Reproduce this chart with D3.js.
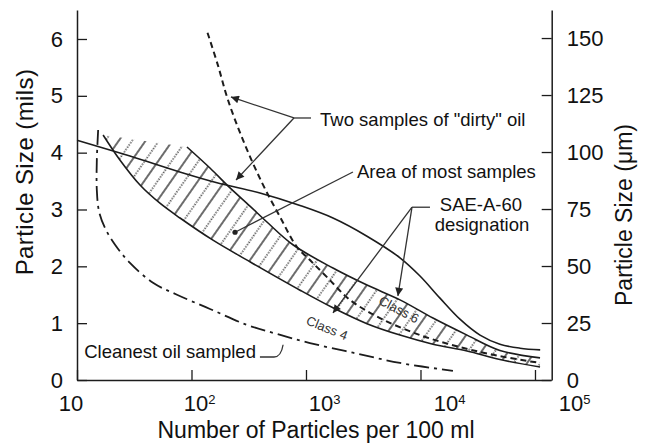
<!DOCTYPE html>
<html><head><meta charset="utf-8">
<script src="https://cdn.jsdelivr.net/npm/d3@7"></script>
<style>
body{margin:0;background:#fff;}
svg{display:block;font-family:"Liberation Sans",Arial,Helvetica,sans-serif;}
</style></head><body>
<svg id="chart" width="648" height="444"></svg>
<script>
// ---- data (count per 100 ml, particle size in mils) ----
const xTickValues = [10, 100, 1000, 10000, 100000];
const xTickBase = "10";
const xTickExps = ["", "2", "3", "4", "5"];
const yMilTicks = [0, 1, 2, 3, 4, 5, 6];
const yUmTicks = [0, 25, 50, 75, 100, 125, 150];

const dirtySolid = [[10,4.22],[29,3.94],[79,3.66],[167,3.47],[396,3.29],[887,3.07],[1720,2.85],[3410,2.53],[6620,2.15],[9900,1.83],[14800,1.44],[22100,1.07],[33100,0.79],[49400,0.63],[74000,0.56],[111000,0.53]];
const dirtyDashed = [[138,6.11],[170,5.54],[208,4.93],[282,4.22],[413,3.47],[593,2.87],[834,2.34],[1083,2.11],[1525,1.81],[2420,1.41],[4430,1.09],[9900,0.79],[22100,0.58],[49400,0.42],[110700,0.30]];
const classFour = [[16.9,4.31],[23.7,3.87],[35.5,3.43],[53,3.11],[79.4,2.85],[154,2.46],[324,2.08],[887,1.58],[1720,1.27],[3410,0.99],[6620,0.79],[12850,0.63],[25500,0.51],[49400,0.36],[110700,0.23]];
const classSix = [[91.3,4.10],[145,3.73],[217,3.38],[324,3.06],[456,2.78],[769,2.38],[1720,1.97],[3410,1.67],[6620,1.41],[12850,1.09],[25500,0.79],[49400,0.52],[110700,0.39]];
const cleanest = [[15.3,4.40],[14.9,3.87],[14.9,3.34],[15.6,2.96],[17.6,2.67],[21.5,2.38],[29,2.06],[46.1,1.71],[74.7,1.50],[145,1.25],[305,0.97],[558,0.81],[1083,0.65],[2570,0.48],[6620,0.30],[19200,0.16]];

// annotation anchors (count, mils)
const dirtyNote = {branch:[785,4.61], tail:[1107,4.61], tips:[[221,4.98],[245,3.52]], text:'Two samples of "dirty" oil'};
const areaNote = {from:[2570,3.66], dot:[240,2.60], text:"Area of most samples"};
const saeNote = {branch:[8430,3.04], tail:[12100,3.04], tips:[[6350,1.48],[1720,1.18]], text:["SAE-A-60","designation"]};
const cleanNote = {a:[396,0.405], b:[526,0.405], c:[631,0.62], text:"Cleanest oil sampled"};
const classLabels = [{text:"Class 6", at:[6490,1.24], rot:28},{text:"Class 4", at:[1525,0.915], rot:22}];

// ---- scales ----
const svg = d3.select("#chart");
const ink = "#1c1c1c";
const x = d3.scaleLog().domain([10, 1.38e5]).range([77, 551]);
const xLab = d3.scaleLog().domain([10, 1e5]).range([71, 571]);
const yL = d3.scaleLinear().domain([0, 6.51]).range([380, 10]);
const yR = d3.scaleLinear().domain([0, 162.3]).range([380, 10]);
const P = d => [x(d[0]), yL(d[1])];

// ---- defs ----
const defs = svg.append("defs");
const pat = defs.append("pattern").attr("id","hatch").attr("patternUnits","userSpaceOnUse")
  .attr("width",22).attr("height",22).attr("patternTransform","rotate(35)");
pat.append("line").attr("x1",2).attr("y1",-1).attr("x2",2).attr("y2",23).attr("stroke",ink).attr("stroke-width",1.3);
pat.append("line").attr("x1",13).attr("y1",0).attr("x2",13).attr("y2",22).attr("stroke",ink).attr("stroke-width",1.4).attr("stroke-dasharray","1.3,1.45");
defs.append("marker").attr("id","arr").attr("viewBox","0 0 10 10").attr("refX",10).attr("refY",5)
  .attr("markerUnits","userSpaceOnUse").attr("markerWidth",12).attr("markerHeight",8).attr("orient","auto")
  .append("path").attr("d","M0,0L10,5L0,10z").attr("fill","#222");

// ---- band ----
const line = d3.line().x(d=>x(d[0])).y(d=>yL(d[1])).curve(d3.curveCatmullRom.alpha(0.5));
const bandPath = line(classFour) + line(classSix.slice().reverse()).replace(/^M/,"L") + "Z";
svg.append("path").attr("d",bandPath).attr("fill","url(#hatch)").attr("stroke","none");

// ---- curves ----
const curves = svg.append("g").attr("fill","none").attr("stroke",ink);
curves.append("path").attr("d",line(classFour)).attr("stroke-width",1.6);
curves.append("path").attr("d",line(classSix)).attr("stroke-width",1.6);
curves.append("path").attr("d",line(dirtySolid)).attr("stroke-width",1.6);
curves.append("path").attr("d",line(dirtyDashed)).attr("stroke-width",2).attr("stroke-dasharray","6,4");
curves.append("path").attr("d",line(cleanest)).attr("stroke-width",1.8).attr("stroke-dasharray","15,5,3,5");

// ---- axes ----
function styleAxis(g){
  g.select(".domain").attr("stroke",ink).attr("stroke-width",1.5);
  g.selectAll(".tick line").attr("stroke",ink).attr("stroke-width",1.3);
  g.selectAll(".tick text").attr("fill","#111");
  g.attr("font-family",null).attr("font-size",22);
}
svg.append("g").attr("transform","translate(0,380)")
  .call(d3.axisBottom(x).tickValues(xTickValues).tickSize(-10).tickSizeOuter(0).tickFormat(""))
  .call(styleAxis);
svg.append("g").attr("transform","translate(77,0)")
  .call(d3.axisLeft(yL).tickValues(yMilTicks).tickSize(-10).tickSizeOuter(0).tickPadding(14).tickFormat(d3.format("d")))
  .call(styleAxis);
svg.append("g").attr("transform","translate(551.7,0)")
  .call(d3.axisRight(yR).tickValues(yUmTicks).tickSize(-10).tickSizeOuter(0).tickPadding(15).tickFormat(d3.format("d")))
  .call(styleAxis);

// x tick labels with superscripts
const xl = svg.append("g").attr("fill","#111").attr("font-size",22);
xTickValues.forEach((v,i)=>{
  const t = xl.append("text").attr("x",xLab(v)).attr("y",411).attr("dx","-0.556em");
  t.append("tspan").text(xTickBase);
  if (xTickExps[i]) t.append("tspan").attr("font-size",13).attr("dy",-7.5).text(xTickExps[i]);
});

// axis titles
svg.append("text").attr("x",316).attr("y",438).attr("text-anchor","middle").attr("font-size",23).attr("fill","#111")
  .text("Number of Particles per 100 ml");
svg.append("text").attr("transform","translate(33,172) rotate(-90)").attr("text-anchor","middle")
  .attr("font-size",24).attr("letter-spacing","0.4px").attr("fill","#111").text("Particle Size (mils)");
svg.append("text").attr("transform","translate(632,215) rotate(-90)").attr("text-anchor","middle")
  .attr("font-size",23).attr("fill","#111").text("Particle Size (\u03bcm)");

// ---- annotations ----
const ann = svg.append("g").attr("stroke","#333").attr("stroke-width",1.3).attr("fill","none");
const tx = svg.append("g").attr("fill","#111").attr("font-size",18.5);

// dirty oil
{
  const b = P(dirtyNote.branch), t = P(dirtyNote.tail);
  ann.append("path").attr("d",`M${b}L${t}`);
  dirtyNote.tips.forEach(tp=>ann.append("path").attr("d",`M${b}L${P(tp)}`).attr("marker-end","url(#arr)"));
  tx.append("text").attr("x",t[0]+9).attr("y",t[1]+8).text(dirtyNote.text);
}
// area
{
  const f = P(areaNote.from), d = P(areaNote.dot);
  ann.append("path").attr("d",`M${f}L${d}`);
  svg.append("circle").attr("cx",d[0]).attr("cy",d[1]).attr("r",2.6).attr("fill","#222");
  tx.append("text").attr("x",f[0]+4).attr("y",f[1]+6).text(areaNote.text);
}
// SAE
{
  const b = P(saeNote.branch), t = P(saeNote.tail);
  ann.append("path").attr("d",`M${b}L${t}`);
  saeNote.tips.forEach(tp=>ann.append("path").attr("d",`M${b}L${P(tp)}`).attr("marker-end","url(#arr)"));
  tx.append("text").attr("x",t[0]+51).attr("y",t[1]+3.5).attr("text-anchor","middle").text(saeNote.text[0]);
  tx.append("text").attr("x",t[0]+52).attr("y",t[1]+24).attr("text-anchor","middle").text(saeNote.text[1]);
}
// cleanest
{
  const a = P(cleanNote.a), b = P(cleanNote.b), c = P(cleanNote.c);
  ann.append("path").attr("d",`M${a}L${b}Q${c[0]-2},${b[1]} ${c}`);
  tx.append("text").attr("x",a[0]-4).attr("y",a[1]+1).attr("text-anchor","end").text(cleanNote.text);
}
// class labels
classLabels.forEach(c=>{
  const p = P(c.at);
  svg.append("text").attr("transform",`translate(${p}) rotate(${c.rot})`).attr("text-anchor","middle")
    .attr("dy","0.35em").attr("font-size",13).attr("fill","#333").text(c.text);
});
</script>
</body></html>
